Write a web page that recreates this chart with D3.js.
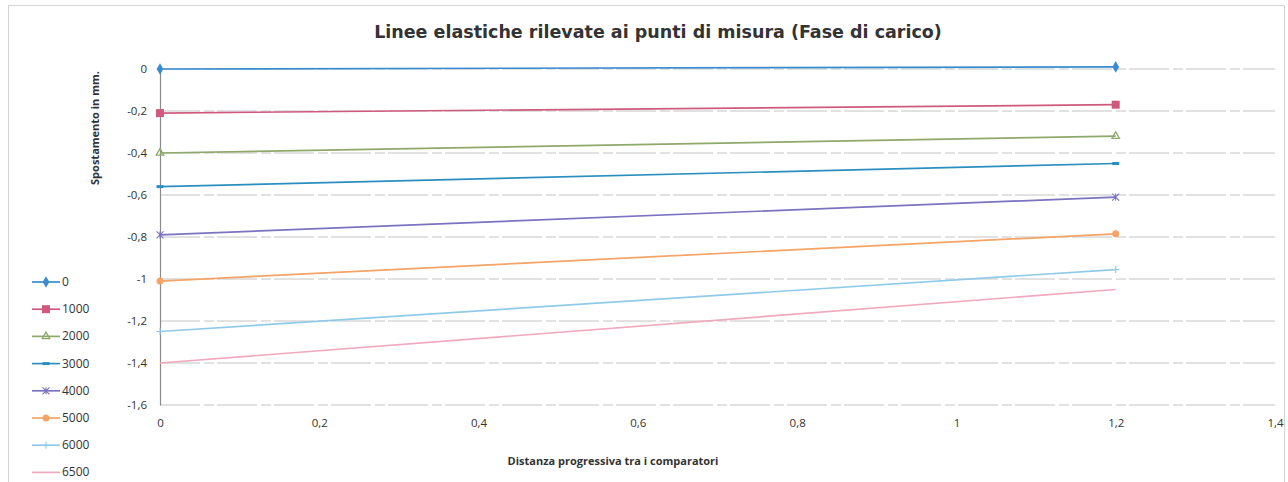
<!DOCTYPE html>
<html>
<head>
<meta charset="utf-8">
<script src="https://cdn.jsdelivr.net/npm/d3@7"></script>
<style>
  html, body { margin: 0; padding: 0; background: #fff; }
  svg { display: block; }
  text { font-family: "Open Sans", "DejaVu Sans", sans-serif; fill: #333; }
</style>
</head>
<body>
<svg id="chart" width="1288" height="482"></svg>
<script>
// Measurement positions along the beam (m)
const positions = [0, 1.2];

// Load steps (legend labels)
const loads = ["0", "1000", "2000", "3000", "4000", "5000", "6000", "6500"];

// Displacement readings (mm) at each position, per load step
const disp0    = [0.00, 0.01];
const disp1000 = [-0.21, -0.17];
const disp2000 = [-0.40, -0.32];
const disp3000 = [-0.56, -0.45];
const disp4000 = [-0.79, -0.61];
const disp5000 = [-1.01, -0.785];
const disp6000 = [-1.25, -0.955];
const disp6500 = [-1.40, -1.05];

// Axis ticks
const xTicks = [0, 0.2, 0.4, 0.6, 0.8, 1, 1.2, 1.4];
const yTicks = [0, -0.2, -0.4, -0.6, -0.8, -1, -1.2, -1.4, -1.6];

const seriesValues = [disp0, disp1000, disp2000, disp3000, disp4000, disp5000, disp6000, disp6500];
const colors = ["#3a8cd0", "#cf5a7e", "#8fa86c", "#2a8fbf", "#7b72c0", "#f3a466", "#8fcbe9", "#f0a9bd"];
const markers = ["diamond", "square", "triangle", "dash", "star", "circle", "plus", "none"];

const svg = d3.select("#chart");

// frame
svg.append("rect")
  .attr("x", 8.5).attr("y", 5.5).attr("width", 1276).attr("height", 480)
  .attr("fill", "none").attr("stroke", "#d4d4d4").attr("stroke-width", 1);

const x = d3.scaleLinear().domain([0, 1.4]).range([160, 1275]);
const y = d3.scaleLinear().domain([-1.6, 0]).range([405, 69]);

// gridlines
svg.append("g")
  .selectAll("line")
  .data(yTicks)
  .join("line")
  .attr("x1", x(0)).attr("x2", x(1.4))
  .attr("y1", d => y(d)).attr("y2", d => y(d))
  .attr("stroke", "#c4c4c4").attr("stroke-width", 1)
  .attr("stroke-dasharray", "40,4,10,3");

// y axis
const fmt = d => d3.format("")(d).replace(".", ",").replace("−", "-");
const yAxis = svg.append("g")
  .attr("transform", `translate(${x(0)},0)`)
  .call(d3.axisLeft(y).tickValues(yTicks).tickSize(0).tickPadding(13).tickFormat(fmt));
yAxis.select(".domain").attr("stroke", "#8a8a8a").attr("stroke-width", 1.2);
yAxis.selectAll("text").style("font-size", "11.5px").style("font-family", "'Open Sans', sans-serif").attr("fill", "#333");

// x axis labels (no axis line beyond the bottom gridline)
const xAxis = svg.append("g")
  .attr("transform", `translate(0,${y(-1.6)})`)
  .call(d3.axisBottom(x).tickValues(xTicks).tickSize(0).tickPadding(14).tickFormat(fmt));
xAxis.select(".domain").remove();
xAxis.selectAll("text").style("font-size", "11.5px").style("font-family", "'Open Sans', sans-serif").attr("fill", "#333");

// lines
const line = d3.line().x(d => x(d[0])).y(d => y(d[1]));
const series = seriesValues.map((vals, i) => ({
  name: loads[i], color: colors[i], marker: markers[i],
  points: positions.map((p, j) => [p, vals[j]])
}));

svg.append("g")
  .selectAll("path")
  .data(series)
  .join("path")
  .attr("d", d => line(d.points))
  .attr("fill", "none")
  .attr("stroke", d => d.color)
  .attr("stroke-width", 1.7);

function drawMarker(g, type, color, cx, cy, s) {
  if (type === "diamond") {
    g.append("path").attr("d", d3.symbol(d3.symbolDiamond, s * s * 0.8)())
      .attr("transform", `translate(${cx},${cy})`).attr("fill", color);
  } else if (type === "square") {
    g.append("rect").attr("x", cx - s / 2).attr("y", cy - s / 2).attr("width", s).attr("height", s)
      .attr("fill", color);
  } else if (type === "triangle") {
    g.append("path").attr("d", d3.symbol(d3.symbolTriangle, s * s * 0.5)())
      .attr("transform", `translate(${cx},${cy})`).attr("fill", "none")
      .attr("stroke", color).attr("stroke-width", 1.3);
  } else if (type === "dash") {
    g.append("line").attr("x1", cx - s / 2).attr("x2", cx + s / 2).attr("y1", cy).attr("y2", cy)
      .attr("stroke", color).attr("stroke-width", 3);
  } else if (type === "star") {
    g.append("path").attr("d", `M${cx - s / 2},${cy - s / 2}L${cx + s / 2},${cy + s / 2}M${cx - s / 2},${cy + s / 2}L${cx + s / 2},${cy - s / 2}M${cx},${cy - s / 2}L${cx},${cy + s / 2}`)
      .attr("stroke", color).attr("stroke-width", 1.1);
  } else if (type === "circle") {
    g.append("circle").attr("cx", cx).attr("cy", cy).attr("r", s / 2).attr("fill", color);
  } else if (type === "plus") {
    g.append("path").attr("d", `M${cx - s / 2},${cy}L${cx + s / 2},${cy}M${cx},${cy - s / 2}L${cx},${cy + s / 2}`)
      .attr("stroke", color).attr("stroke-width", 1.1);
  }
}

// markers at measurement points
const markG = svg.append("g");
series.forEach(s => {
  s.points.forEach(p => drawMarker(markG, s.marker, s.color, x(p[0]), y(p[1]), s.marker === "square" ? 8 : 7));
});

// legend
const leg = svg.append("g");
series.forEach((s, i) => {
  const ly = 282 + i * 27.2;
  leg.append("line").attr("x1", 32).attr("x2", 60).attr("y1", ly).attr("y2", ly)
    .attr("stroke", s.color).attr("stroke-width", 1.7);
  drawMarker(leg, s.marker, s.color, 46, ly, s.marker === "square" ? 8 : 7);
  leg.append("text").attr("x", 62).attr("y", ly + 4)
    .style("font-size", "12px").text(s.name);
});

// title
svg.append("text")
  .attr("x", 658).attr("y", 38)
  .attr("text-anchor", "middle")
  .style("font-family", "'DejaVu Sans', sans-serif")
  .style("font-weight", "bold").style("font-size", "17.5px").attr("fill", "#222")
  .text("Linee elastiche rilevate ai punti di misura (Fase di carico)");

// axis titles
svg.append("text")
  .attr("x", 613).attr("y", 465)
  .attr("text-anchor", "middle")
  .style("font-weight", "bold").style("font-size", "11px").attr("fill", "#222")
  .style("font-family", "'Liberation Sans Narrow', 'Open Sans', sans-serif")
  .text("Distanza progressiva tra i comparatori");

svg.append("text")
  .attr("transform", "translate(99,128) rotate(-90)")
  .attr("text-anchor", "middle")
  .style("font-weight", "bold").style("font-size", "11px").attr("fill", "#222")
  .style("font-family", "'Liberation Sans Narrow', 'Open Sans', sans-serif")
  .text("Spostamento in mm.");
</script>
</body>
</html>
